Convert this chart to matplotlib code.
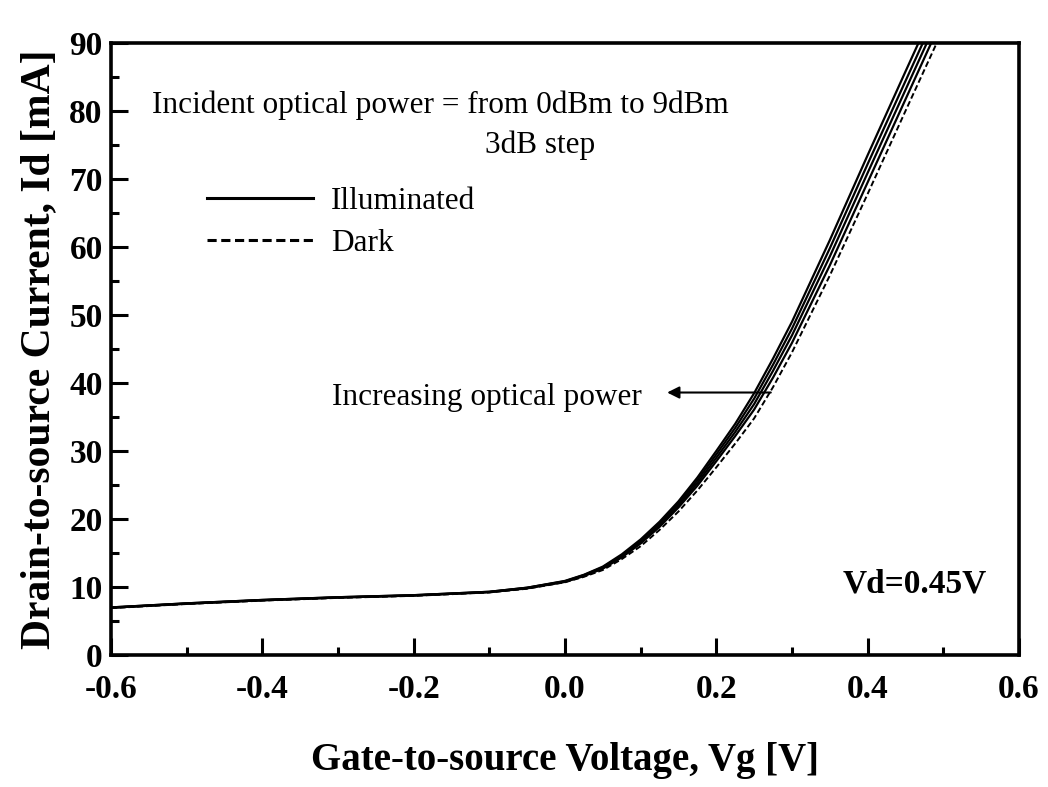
import matplotlib
matplotlib.use("Agg")
import matplotlib.pyplot as plt
from matplotlib.lines import Line2D

# ---- data ----
vg = [-0.6, -0.5, -0.4, -0.3, -0.2, -0.1, -0.05, 0.0, 0.025, 0.05, 0.075, 0.1,
      0.125, 0.15, 0.175, 0.2, 0.225, 0.25, 0.275, 0.3, 0.35, 0.4, 0.45, 0.5]
id_9dbm = [7.0, 7.6, 8.1, 8.5, 8.8, 9.3, 9.9, 10.9, 11.8, 13.0, 14.8, 17.0,
           19.6, 22.6, 26.1, 30.0, 34.0, 38.5, 43.6, 49.0, 61.0, 73.5, 85.8, 98.0]
id_6dbm = [7.0, 7.6, 8.1, 8.5, 8.8, 9.3, 9.9, 10.85, 11.75, 12.9, 14.65, 16.8,
           19.35, 22.3, 25.7, 29.5, 33.4, 37.7, 42.7, 48.0, 59.8, 72.2, 84.4, 96.6]
id_3dbm = [6.95, 7.55, 8.05, 8.45, 8.75, 9.25, 9.85, 10.8, 11.7, 12.8, 14.5, 16.6,
           19.1, 22.0, 25.3, 29.0, 32.8, 36.9, 41.8, 47.0, 58.6, 70.9, 83.1, 95.3]
id_0dbm = [6.95, 7.55, 8.05, 8.45, 8.75, 9.25, 9.8, 10.75, 11.6, 12.7, 14.35, 16.4,
           18.85, 21.7, 24.9, 28.5, 32.2, 36.1, 40.8, 45.9, 57.3, 69.5, 81.7, 93.9]
id_dark = [6.9, 7.5, 8.0, 8.4, 8.7, 9.2, 9.75, 10.7, 11.5, 12.5, 14.1, 16.0,
           18.4, 21.1, 24.2, 27.6, 31.1, 34.8, 39.4, 44.5, 55.8, 67.8, 80.0, 92.1]
illuminated = [id_0dbm, id_3dbm, id_6dbm, id_9dbm]

xticks = [-0.6, -0.4, -0.2, 0.0, 0.2, 0.4, 0.6]
xticklabels = ["-0.6", "-0.4", "-0.2", "0.0", "0.2", "0.4", "0.6"]
yticks = [0, 10, 20, 30, 40, 50, 60, 70, 80, 90]

SERIF = ["Liberation Serif", "DejaVu Serif"]

fig = plt.figure(figsize=(10.48, 7.87), dpi=100)
ax = fig.add_axes([0.1059, 0.1677, 0.8664, 0.7777])

for ys in illuminated:
    ax.plot(vg, ys, color="black", lw=1.6, solid_capstyle="butt")
ax.plot(vg, id_dark, color="black", lw=1.4, linestyle=(0, (3, 1.5)))

ax.set_xlim(-0.6, 0.6)
ax.set_ylim(0, 90)
ax.set_xticks(xticks)
ax.set_xticklabels(xticklabels)
ax.set_yticks(yticks)
ax.set_xticks([-0.5, -0.3, -0.1, 0.1, 0.3, 0.5], minor=True)
ax.set_yticks([5, 15, 25, 35, 45, 55, 65, 75, 85], minor=True)

ax.tick_params(which="both", direction="in", width=2.2, top=False, right=False)
ax.tick_params(which="major", length=12)
ax.tick_params(which="minor", length=6)
ax.tick_params(axis="x", which="major", pad=14)
ax.tick_params(axis="y", which="major", pad=6)
for lab in ax.get_xticklabels() + ax.get_yticklabels():
    lab.set_family(SERIF)
    lab.set_fontweight("bold")
    lab.set_fontsize(24)

for sp in ax.spines.values():
    sp.set_linewidth(2.6)

ax.set_xlabel("Gate-to-source Voltage, Vg [V]", family=SERIF, fontweight="bold",
              fontsize=28, labelpad=26)
ax.set_ylabel("Drain-to-source Current, Id [mA]", family=SERIF, fontweight="bold",
              fontsize=30, labelpad=8)

ax.text(-0.165, 80.8, "Incident optical power = from 0dBm to 9dBm", family=SERIF,
        fontsize=22.5, ha="center", va="center")
ax.text(-0.033, 75.0, "3dB step", family=SERIF, fontsize=22.5, ha="center", va="center")

handles = [Line2D([], [], color="black", lw=2.2),
           Line2D([], [], color="black", lw=2.2, linestyle=(0, (3, 1.5)))]
leg = ax.legend(handles, ["Illuminated", "Dark"], loc="upper left",
                bbox_to_anchor=(0.075, 0.81), frameon=False, handlelength=3.4,
                handletextpad=0.55, labelspacing=0.4,
                prop={"family": SERIF, "size": 22.5})

ax.annotate("", xy=(0.135, 38.6), xytext=(0.272, 38.6),
            arrowprops=dict(arrowstyle="-|>", color="black", lw=1.5,
                            mutation_scale=18, shrinkA=0, shrinkB=0))
ax.text(-0.103, 37.8, "Increasing optical power", family=SERIF, fontsize=22.5,
        ha="center", va="center")
ax.text(0.4625, 10.5, "Vd=0.45V", family=SERIF, fontsize=24, fontweight="bold",
        ha="center", va="center")

fig.savefig("out.png", dpi=100)
